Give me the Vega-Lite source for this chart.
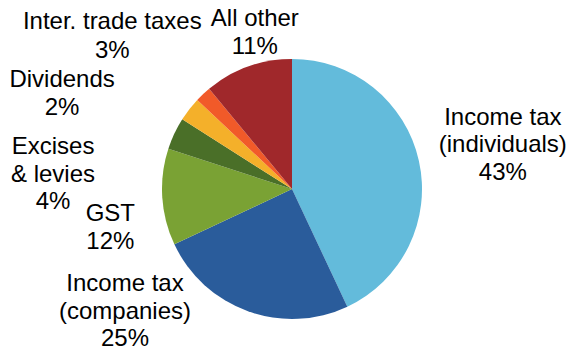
{
  "$schema": "https://vega.github.io/schema/vega-lite/v6.json",
  "autosize": "none",
  "width": 260,
  "height": 260,
  "padding": {"left": 162, "top": 59, "right": 149, "bottom": 37},
  "background": "white",
  "config": {"view": {"stroke": null}},
  "data": {
    "values": [
      {"i": 1, "category": "Income tax (individuals)", "share": 43, "label": "Income tax\n(individuals)\n43%"},
      {"i": 2, "category": "Income tax (companies)", "share": 25, "label": "Income tax\n(companies)\n25%"},
      {"i": 3, "category": "GST", "share": 12, "label": "GST\n12%"},
      {"i": 4, "category": "Excises & levies", "share": 4, "label": "Excises\n& levies\n4%"},
      {"i": 5, "category": "Inter. trade taxes", "share": 3, "label": "Inter. trade taxes\n3%"},
      {"i": 6, "category": "Dividends", "share": 2, "label": "Dividends\n2%"},
      {"i": 7, "category": "All other", "share": 11, "label": "All other\n11%"}
    ]
  },
  "encoding": {
    "theta": {"field": "share", "type": "quantitative", "stack": true},
    "order": {"field": "i", "type": "quantitative"}
  },
  "layer": [
    {
      "mark": {"type": "arc", "outerRadius": 130},
      "encoding": {
        "color": {
          "field": "category",
          "type": "nominal",
          "legend": null,
          "scale": {
            "domain": ["Income tax (individuals)", "Income tax (companies)", "GST", "Excises & levies", "Inter. trade taxes", "Dividends", "All other"],
            "range": ["#63BBDB", "#2A5C9B", "#7AA234", "#4A6F28", "#F4B02A", "#F15A29", "#A0282B"]
          }
        }
      }
    },
    {
      "mark": {"type": "text", "radius": 215, "dx": 1, "dy": -24.5, "fontSize": 24, "lineHeight": 27.5, "lineBreak": "\n", "font": "Liberation Sans", "color": "#000", "align": "center", "baseline": "middle"},
      "encoding": {"text": {"condition": {"test": "datum.i === 1", "field": "label"}, "value": ""}}
    },
    {
      "mark": {"type": "text", "radius": 130, "dx": -123, "dy": -27, "fontSize": 24, "lineHeight": 27.5, "lineBreak": "\n", "font": "Liberation Sans", "color": "#000", "align": "center", "baseline": "middle"},
      "encoding": {"text": {"condition": {"test": "datum.i === 2", "field": "label"}, "value": ""}}
    },
    {
      "mark": {"type": "text", "radius": 180, "dx": -2, "dy": 14, "fontSize": 24, "lineHeight": 27.5, "lineBreak": "\n", "font": "Liberation Sans", "color": "#000", "align": "center", "baseline": "middle"},
      "encoding": {"text": {"condition": {"test": "datum.i === 3", "field": "label"}, "value": ""}}
    },
    {
      "mark": {"type": "text", "radius": 200, "dx": -58, "dy": 43.5, "fontSize": 24, "lineHeight": 27.5, "lineBreak": "\n", "font": "Liberation Sans", "color": "#000", "align": "center", "baseline": "middle"},
      "encoding": {"text": {"condition": {"test": "datum.i === 4", "field": "label"}, "value": ""}}
    },
    {
      "mark": {"type": "text", "radius": 235, "dx": 6, "dy": -23, "fontSize": 24, "lineHeight": 29, "lineBreak": "\n", "font": "Liberation Sans", "color": "#000", "align": "center", "baseline": "middle"},
      "encoding": {"text": {"condition": {"test": "datum.i === 5", "field": "label"}, "value": ""}}
    },
    {
      "mark": {"type": "text", "radius": 200, "dx": -93, "dy": 37, "fontSize": 24, "lineHeight": 27.5, "lineBreak": "\n", "font": "Liberation Sans", "color": "#000", "align": "center", "baseline": "middle"},
      "encoding": {"text": {"condition": {"test": "datum.i === 6", "field": "label"}, "value": ""}}
    },
    {
      "mark": {"type": "text", "radius": 160, "dx": 17, "dy": -19, "fontSize": 24, "lineHeight": 27.5, "lineBreak": "\n", "font": "Liberation Sans", "color": "#000", "align": "center", "baseline": "middle"},
      "encoding": {"text": {"condition": {"test": "datum.i === 7", "field": "label"}, "value": ""}}
    }
  ]
}
